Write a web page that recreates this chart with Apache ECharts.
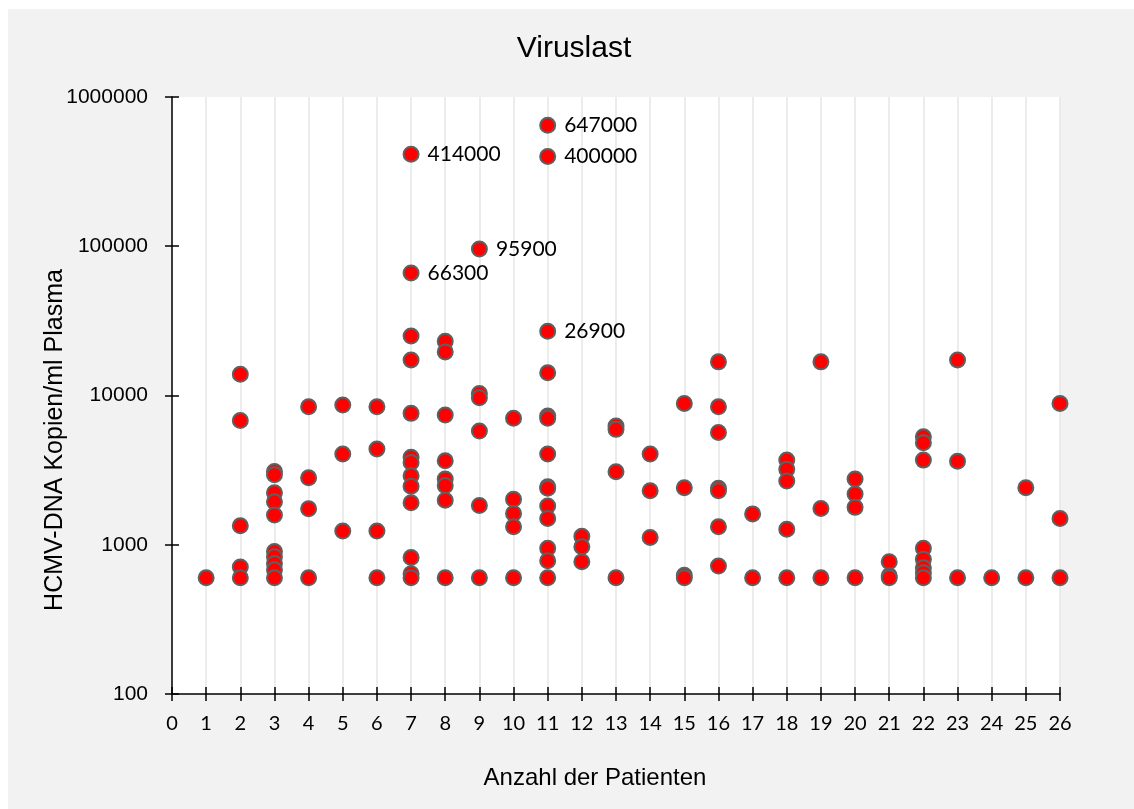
<!DOCTYPE html>
<html>
<head>
<meta charset="utf-8">
<script src="https://cdn.jsdelivr.net/npm/echarts@6/dist/echarts.min.js"></script>
<style>
html,body{margin:0;padding:0;background:#fff;}
#chart{width:1134px;height:809px;}
</style>
</head>
<body>
<div id="chart"></div>
<script>
// ---- data ----
const chartTitle = 'Viruslast';
const xAxisName = 'Anzahl der Patienten';
const yAxisName = 'HCMV-DNA Kopien/ml Plasma';
const patientTicks = [0,1,2,3,4,5,6,7,8,9,10,11,12,13,14,15,16,17,18,19,20,21,22,23,24,25,26];
const yTicks = [100, 1000, 10000, 100000, 1000000];

// unlabeled viral loads per patient (patient 1..26)
const viralLoads = [
  [600],
  [13900, 6800, 1340, 710, 600],
  [3100, 2950, 2230, 1940, 1580, 900, 830, 750, 680, 600],
  [8400, 2810, 1740, 600],
  [8630, 4050, 1235],
  [8400, 4380, 1235, 600],
  [25000, 17300, 7590, 3850, 3560, 2900, 2470, 1910, 820, 640, 600],
  [23100, 19600, 7390, 3650, 2760, 2490, 1990, 600],
  [10300, 9650, 5780, 1830, 600],
  [7030, 2020, 1620, 1320, 600],
  [14200, 7280, 7030, 4050, 2450, 2390, 1820, 1500, 946, 781, 600],
  [1140, 970, 770],
  [6240, 5930, 3080, 600],
  [4050, 2300, 1120],
  [8850, 2410, 625, 600],
  [16800, 8400, 5660, 2390, 2300, 1320, 720],
  [1610, 600],
  [3690, 3200, 2670, 1270, 600],
  [16800, 1750, 600],
  [2760, 2190, 1780, 600],
  [770, 620, 600],
  [5290, 4830, 3690, 946, 800, 700, 650, 600],
  [17300, 3630, 600],
  [600],
  [2410, 600],
  [8850, 1500, 600]
];

// labeled high values
const labeledPatients = [7, 7, 9, 11, 11, 11];
const labeledValues = [414000, 66300, 95900, 647000, 400000, 26900];

// ---- build series data ----
const plainPoints = [];
viralLoads.forEach((vals, i) => vals.forEach(v => plainPoints.push([i + 1, v])));
const labeledPoints = labeledPatients.map((p, i) => [p, labeledValues[i]]);

const markerStyle = { color: '#ff0000', borderColor: '#606060', borderWidth: 2, opacity: 1 };
const axisBlack = { color: '#000', width: 1.5 };

const chart = echarts.init(document.getElementById('chart'), null, { renderer: 'canvas' });
chart.setOption({
  animation: false,
  backgroundColor: 'transparent',
  graphic: [
    { type: 'rect', z: -10, silent: true, shape: { x: 8, y: 9, width: 1126, height: 800 }, style: { fill: '#f2f2f2' } },
    { type: 'text', z: 10, x: 574, y: 49, style: { text: chartTitle, font: '30px "Liberation Sans", Arial, sans-serif', fill: '#000', textAlign: 'center', textVerticalAlign: 'middle' } },
    { type: 'text', z: 10, x: 595, y: 778, style: { text: xAxisName, font: '24px "Liberation Sans", Arial, sans-serif', fill: '#000', textAlign: 'center', textVerticalAlign: 'middle' } },
    { type: 'text', z: 10, x: 55, y: 440, rotation: Math.PI / 2, style: { text: yAxisName, font: '25px "Liberation Sans", Arial, sans-serif', fill: '#000', textAlign: 'center', textVerticalAlign: 'middle' } }
  ],
  grid: { left: 172, top: 97, width: 888, height: 597, show: true, backgroundColor: '#ffffff', borderWidth: 0 },
  xAxis: [
    {
      type: 'value', min: 0, max: 26, interval: 1, position: 'bottom',
      axisLine: { show: true, onZero: false, lineStyle: axisBlack },
      axisTick: { show: true, inside: false, length: 7, lineStyle: axisBlack },
      axisLabel: { show: true, margin: 20, color: '#000', fontFamily: 'Lato', fontSize: 20,
        formatter: v => patientTicks.includes(v) ? String(v) : '' },
      splitLine: { show: true, lineStyle: { color: '#e6e6e6', width: 1.5 } }
    },
    {
      type: 'value', min: 0, max: 26, interval: 1, position: 'bottom',
      axisLine: { show: false },
      axisTick: { show: true, inside: true, length: 7, lineStyle: axisBlack },
      axisLabel: { show: false },
      splitLine: { show: false }
    }
  ],
  yAxis: [
    {
      type: 'log', logBase: 10, min: 100, max: 1000000, position: 'left',
      axisLine: { show: true, onZero: false, lineStyle: axisBlack },
      axisTick: { show: true, inside: false, length: 7, lineStyle: axisBlack },
      axisLabel: { show: true, margin: 24, color: '#000', fontFamily: '"Liberation Sans", Arial, sans-serif', fontSize: 21,
        formatter: v => { const r = Math.round(v); return yTicks.includes(r) ? String(r) : ''; } },
      splitLine: { show: false }
    },
    {
      type: 'log', logBase: 10, min: 100, max: 1000000, position: 'left',
      axisLine: { show: false },
      axisTick: { show: true, inside: true, length: 7, lineStyle: axisBlack },
      axisLabel: { show: false },
      splitLine: { show: false }
    }
  ],
  series: [
    {
      type: 'scatter', xAxisIndex: 0, yAxisIndex: 0,
      symbol: 'circle', symbolSize: 15,
      itemStyle: markerStyle,
      data: plainPoints
    },
    {
      type: 'scatter', xAxisIndex: 0, yAxisIndex: 0,
      symbol: 'circle', symbolSize: 15,
      itemStyle: markerStyle,
      label: {
        show: true, position: 'right', distance: 8, color: '#000', opacity: 1,
        fontFamily: 'Lato', fontSize: 21,
        formatter: p => String(p.value[1])
      },
      data: labeledPoints
    }
  ]
});
</script>
</body>
</html>
